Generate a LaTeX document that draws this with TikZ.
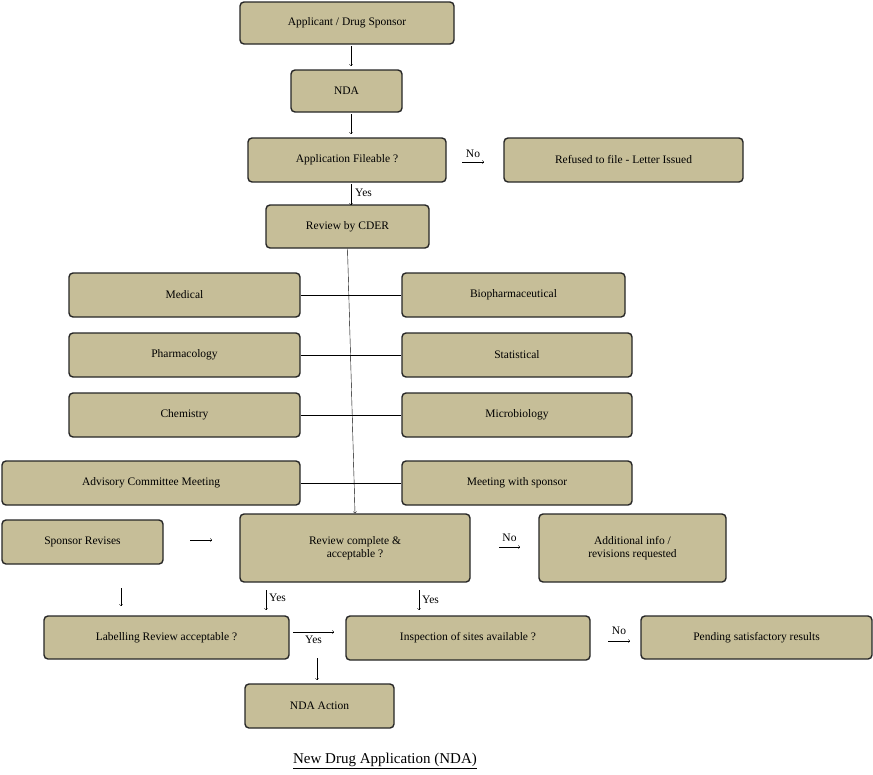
\documentclass[tikz,border=0pt]{standalone}
\usepackage{fontspec}
\setmainfont{Liberation Serif}
\begin{document}
\begin{tikzpicture}[x=1pt,y=-1pt,>=to,
  box/.style={draw=black!85,line width=1.4pt,rounded corners=4pt,fill=tan,
    font=\fontsize{11.5}{13.5}\selectfont,align=center,inner sep=0pt},
  lbl/.style={font=\fontsize{11.5}{13.5}\selectfont,inner sep=1pt}]
\definecolor{tan}{RGB}{198,190,152}
\useasboundingbox (0,0) rectangle (873,774);
% the boxes, as left top right bottom
\newcommand\bx[6]{\node[box,minimum width=#4-#2,minimum height=#5-#3] (#1) at ({(#2+#4)/2},{(#3+#5)/2}) {#6};}
\bx{appl}{240}{2}{454}{44}{Applicant  / Drug Sponsor}
\bx{nda}{291}{70}{402}{112}{NDA}
\bx{file}{248}{138}{446}{182}{Application Fileable ?}
\bx{refuse}{504}{138}{743}{182}{Refused to file - Letter Issued}
\bx{cder}{266}{205}{429}{248}{Review by CDER}
\bx{med}{69}{273}{300}{317}{Medical}
\bx{bio}{402}{273}{625}{317}{Biopharmaceutical}
\bx{pharm}{69}{333}{300}{377}{Pharmacology}
\bx{stat}{402}{333}{632}{377}{Statistical}
\bx{chem}{69}{393}{300}{437}{Chemistry}
\bx{micro}{402}{393}{632}{437}{Microbiology}
\bx{advis}{2}{461}{300}{505}{Advisory  Committee Meeting}
\bx{meet}{402}{461}{632}{505}{Meeting with sponsor}
\bx{revise}{2}{520}{163}{564}{Sponsor Revises}
\bx{done}{240}{514}{470}{582}{Review complete \&\\ acceptable ?}
\bx{addl}{539}{514}{726}{582}{Additional info /\\ revisions requested}
\bx{label}{44}{616}{289}{659}{Labelling Review acceptable ?}
\bx{insp}{346}{616}{590}{660}{Inspection of sites available  ?}
\bx{pend}{641}{616}{872}{659}{Pending satisfactory results}
\bx{action}{245}{684}{394}{728}{NDA Action}

% main spine and side branches
\draw[->] (cder.south) -- (done.north);
\foreach \a/\b in {med/bio,pharm/stat,chem/micro,advis/meet}
  \draw (\a.east) -- (\b.west);

% short arrows
\draw[->] (351,46) -- (351,66);
\draw[->] (351,114) -- (351,134);
\draw[->] (351,184) -- (351,205) node[lbl,pos=0.4,right=3pt] {Yes};
\draw[->] (462,162) -- (484,162) node[lbl,midway,above=3pt] {No};
\draw[->] (190,540) -- (212,540);
\draw[->] (499,547) -- (520,547) node[lbl,midway,above=4pt] {No};
\draw[->] (121,588) -- (121,606);
\draw[->] (266,590) -- (266,610) node[lbl,pos=0.4,right=2pt] {Yes};
\draw[->] (419,590) -- (419,610) node[lbl,pos=0.5,right=2pt] {Yes};
\draw[->] (293,632) -- (334,632) node[lbl,midway,below=3pt] {Yes};
\draw[->] (317,658) -- (317,680);
\draw[->] (608,641) -- (630,641) node[lbl,midway,above=5pt] {No};

% caption
\node[font=\fontsize{15}{17}\selectfont] (cap) at (385,761) {\underline{New Drug Application (NDA)}};
\end{tikzpicture}
\end{document}
